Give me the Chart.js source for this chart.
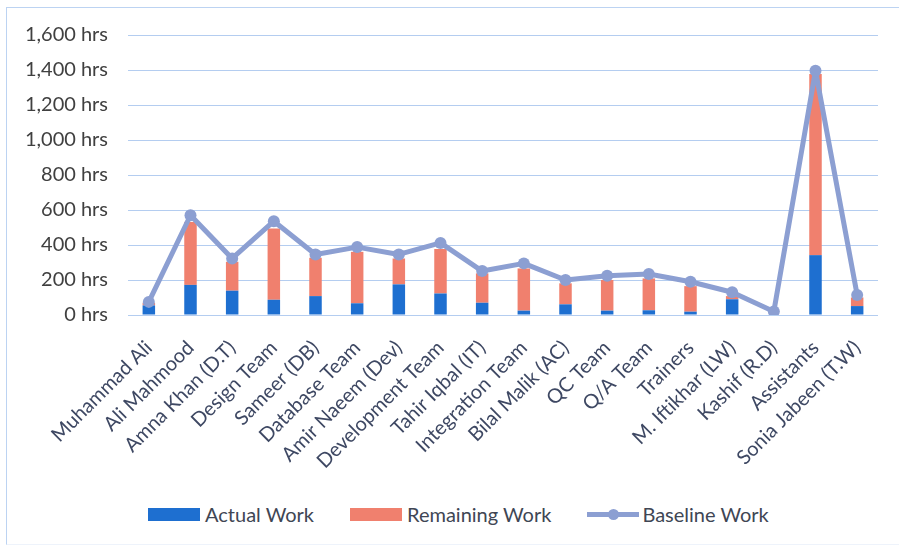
<!DOCTYPE html>
<html>
<head>
<meta charset="utf-8">
<script src="https://cdn.jsdelivr.net/npm/chart.js@4"></script>
<style>
    html, body { margin: 0; padding: 0; background: #fff; }
    .frame {
        position: absolute; left: 6px; top: 7px; width: 893px; height: 538px;
        border-top: 1px solid #bcd3f2; border-left: 1px solid #bcd3f2;
        border-bottom: 1px solid #eef3fb;
        box-sizing: border-box;
    }
    .chart-box { position: absolute; left: 0; top: 0; width: 899px; height: 490px; }
    .legend {
        position: absolute; left: 148px; top: 502px;
        display: flex; align-items: center;
        font-family: Lato, sans-serif; font-size: 20px; color: #404654;
    }
    .legend .item { display: flex; align-items: center; margin-right: 36px; }
    .legend .swatch { width: 52px; height: 13px; margin-right: 5px; }
    .legend .line-swatch { position: relative; width: 52px; height: 13px; margin-right: 3px; }
    .legend .line-swatch::before {
        content: ''; position: absolute; left: 0; right: 0; top: 4px; height: 5px; background: #8c9fd2;
    }
    .legend .line-swatch::after {
        content: ''; position: absolute; left: 21px; top: 1px; width: 11px; height: 11px;
        border-radius: 50%; background: #8c9fd2;
    }
</style>
</head>
<body>
<div class="frame"></div>
<div class="chart-box"><canvas id="work-chart"></canvas></div>
<div class="legend" id="legend"></div>

<script>
// Hours per resource / team
const resources = [
    'Muhammad Ali', 'Ali Mahmood', 'Amna Khan (D.T)', 'Design Team', 'Sameer (DB)',
    'Database Team', 'Amir Naeem (Dev)', 'Development Team', 'Tahir Iqbal (IT)',
    'Integration Team', 'Bilal Malik (AC)', 'QC Team', 'Q/A Team', 'Trainers',
    'M. Iftikhar (LW)', 'Kashif (R.D)', 'Assistants', 'Sonia Jabeen (T.W)'
];
const actualWork    = [55, 172, 139, 87, 108, 67, 175, 123, 70, 25, 61, 25, 27, 19, 90, 0, 342, 51];
const remainingWork = [15, 360, 165, 407, 219, 294, 148, 254, 168, 241, 120, 175, 182, 146, 18, 0, 1035, 49];
const baselineWork  = [75, 570, 323, 536, 346, 388, 346, 412, 251, 295, 200, 224, 234, 190, 130, 20, 1396, 114];
const yTicks = [0, 200, 400, 600, 800, 1000, 1200, 1400, 1600];

const colors = {
    actual: '#1e6fd0',
    remaining: '#f0806e',
    baseline: '#8c9fd2',
    grid: '#b4cdf0'
};

const font = { family: 'Lato, sans-serif', size: 20 };

function initializeChart() {
    new Chart(document.getElementById('work-chart').getContext('2d'), {
        type: 'bar',
        data: {
            labels: resources,
            datasets: [
                {
                    type: 'line',
                    label: 'Baseline Work',
                    data: baselineWork,
                    stack: 'baseline',
                    borderColor: colors.baseline,
                    backgroundColor: colors.baseline,
                    borderWidth: 5,
                    borderJoinStyle: 'round',
                    borderCapStyle: 'round',
                    pointRadius: 6,
                    pointBorderWidth: 0,
                    tension: 0,
                    order: 0
                },
                {
                    label: 'Actual Work',
                    data: actualWork,
                    stack: 'work',
                    backgroundColor: colors.actual,
                    barPercentage: 0.3,
                    categoryPercentage: 1,
                    order: 1
                },
                {
                    label: 'Remaining Work',
                    data: remainingWork,
                    stack: 'work',
                    backgroundColor: colors.remaining,
                    barPercentage: 0.3,
                    categoryPercentage: 1,
                    order: 1
                }
            ]
        },
        options: {
            responsive: true,
            maintainAspectRatio: false,
            animation: false,
            layout: { padding: { top: 35, right: 21, left: 0, bottom: 0 } },
            plugins: {
                legend: { display: false },
                tooltip: { enabled: false }
            },
            scales: {
                x: {
                    stacked: true,
                    grid: { display: false },
                    border: { display: false },
                    ticks: {
                        font: font,
                        color: '#3e4863',
                        autoSkip: false,
                        minRotation: 45,
                        maxRotation: 45,
                        padding: 13
                    },
                    afterFit: (scale) => { scale.height = 175; }
                },
                y: {
                    stacked: true,
                    min: 0,
                    max: 1600,
                    afterBuildTicks: (scale) => { scale.ticks = yTicks.map(v => ({ value: v })); },
                    grid: { color: colors.grid, lineWidth: 1, drawTicks: false },
                    border: { display: false },
                    ticks: {
                        font: font,
                        color: '#404040',
                        padding: 20,
                        callback: (value) => value.toLocaleString('en-US') + ' hrs'
                    },
                    afterFit: (scale) => { scale.width = 128; }
                }
            }
        }
    });
}

function buildLegend() {
    const legend = document.getElementById('legend');
    const items = [
        { label: 'Actual Work', swatch: 'swatch', color: colors.actual },
        { label: 'Remaining Work', swatch: 'swatch', color: colors.remaining },
        { label: 'Baseline Work', swatch: 'line-swatch' }
    ];
    items.forEach(item => {
        const el = document.createElement('div');
        el.className = 'item';
        const sw = document.createElement('span');
        sw.className = item.swatch;
        if (item.color) sw.style.background = item.color;
        const text = document.createElement('span');
        text.textContent = item.label;
        el.appendChild(sw);
        el.appendChild(text);
        legend.appendChild(el);
    });
}

document.addEventListener('DOMContentLoaded', () => {
    initializeChart();
    buildLegend();
});
</script>
</body>
</html>
